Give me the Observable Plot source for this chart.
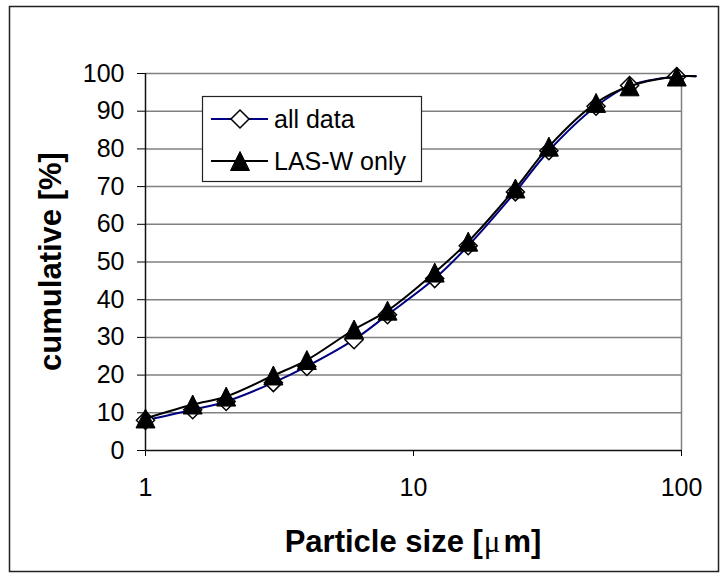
<!DOCTYPE html>
<html>
<head>
<meta charset="utf-8">
<script src="https://cdn.jsdelivr.net/npm/d3@7"></script>
<script src="https://cdn.jsdelivr.net/npm/@observablehq/plot@0.6"></script>
<style>
  html, body { margin: 0; padding: 0; background: #fff; }
</style>
</head>
<body>
<div id="chart"></div>
<script>
// Cumulative particle size distribution, two series on a log size axis.
const sizes   = [1, 1.5, 2, 3, 4, 6, 8, 12, 16, 24, 32, 48, 64, 96, 113];
const allData = [8.0, 10.8, 13.0, 18.0, 22.3, 29.4, 36.0, 45.6, 54.3, 68.6, 79.5, 91.3, 96.8, 99.2, 99.3];
const lasW    = [8.5, 12.2, 14.3, 19.9, 24.0, 32.1, 37.1, 47.2, 55.4, 69.5, 80.6, 92.2, 96.6, 99.2, 99.3];
const seriesNames = ["all data", "LAS-W only"];
const xTicks = [1, 10, 100];
const yTicks = [0, 10, 20, 30, 40, 50, 60, 70, 80, 90, 100];
const markerMax = 100; // points beyond the axis are drawn as line only

const rowsAll = sizes.map((s, i) => ({size: s, value: allData[i]}));
const rowsLas = sizes.map((s, i) => ({size: s, value: lasW[i]}));

// Spreadsheet-style markers, centred on their bounding box
const diamondSym = {
  draw(ctx, size) {
    const r = Math.sqrt(size / Math.PI);
    ctx.moveTo(0, -r); ctx.lineTo(r, 0); ctx.lineTo(0, r); ctx.lineTo(-r, 0); ctx.closePath();
  }
};
const triangleSym = {
  draw(ctx, size) {
    const r = Math.sqrt(size / Math.PI);
    ctx.moveTo(0, -r); ctx.lineTo(r, r); ctx.lineTo(-r, r); ctx.closePath();
  }
};
const diamondR = 9;
const triangleR = 9.5;

const W = 727, H = 579;
const mL = 145, mR = 46, mT = 73, mB = 129;

const svg = Plot.plot({
  width: W,
  height: H,
  marginLeft: mL,
  marginRight: mR,
  marginTop: mT,
  marginBottom: mB,
  style: {background: "white", fontFamily: "'Liberation Sans', Arial, sans-serif", fontSize: "25px", color: "black"},
  x: {type: "log", domain: [1, 100], ticks: xTicks, tickFormat: d => String(d), tickSize: 6, tickPadding: 22, label: null},
  y: {domain: [0, 100], ticks: yTicks, tickFormat: d => String(d), tickSize: 8, tickPadding: 13, label: null},
  marks: [
    Plot.ruleY(yTicks.filter(d => d > 0), {stroke: "#808080", strokeWidth: 1.5}),
    Plot.ruleX([100], {stroke: "#808080", strokeWidth: 1.5}),
    Plot.ruleX([1], {stroke: "#111", strokeWidth: 1.5}),
    Plot.ruleY([0], {stroke: "#111", strokeWidth: 1.5}),
    Plot.line(rowsAll, {x: "size", y: "value", stroke: "#000080", strokeWidth: 2, curve: "catmull-rom"}),
    Plot.dot(rowsAll.filter(d => d.size <= markerMax), {x: "size", y: "value", symbol: diamondSym, r: diamondR, fill: "white", stroke: "black", strokeWidth: 1.5}),
    Plot.line(rowsLas, {x: "size", y: "value", stroke: "black", strokeWidth: 2, curve: "catmull-rom"}),
    Plot.dot(rowsLas.filter(d => d.size <= markerMax), {x: "size", y: "value", symbol: triangleSym, r: triangleR, fill: "black", stroke: "black", strokeWidth: 1})
  ]
});

const root = d3.select(svg);

// outer chart border
root.insert("rect", ":first-child")
  .attr("x", 9.5).attr("y", 6.5).attr("width", 709).attr("height", 565)
  .attr("fill", "white").attr("stroke", "#222").attr("stroke-width", 1.5);

// legend
const lg = root.append("g").attr("text-anchor", "start");
lg.append("rect")
  .attr("x", 202.5).attr("y", 96.5).attr("width", 219).attr("height", 85)
  .attr("fill", "white").attr("stroke", "#222").attr("stroke-width", 1.2);
const entries = [
  {name: seriesNames[0], stroke: "#000080", sym: diamondSym, r: diamondR, fill: "white", sw: 1.5, cy: 119},
  {name: seriesNames[1], stroke: "black", sym: triangleSym, r: triangleR, fill: "black", sw: 1, cy: 161}
];
entries.forEach(e => {
  lg.append("line").attr("x1", 211).attr("x2", 268).attr("y1", e.cy).attr("y2", e.cy)
    .attr("stroke", e.stroke).attr("stroke-width", 2);
  lg.append("path").attr("d", d3.symbol(e.sym, Math.PI * e.r * e.r)())
    .attr("transform", `translate(240,${e.cy})`)
    .attr("fill", e.fill).attr("stroke", "black").attr("stroke-width", e.sw);
  lg.append("text").attr("x", 274).attr("y", e.cy + 9).text(e.name)
    .attr("text-anchor", "start").attr("font-size", 25).attr("fill", "black");
});

// axis titles
const xt = root.append("text")
  .attr("x", (mL + W - mR) / 2).attr("y", 552)
  .attr("text-anchor", "middle").attr("font-weight", "bold").attr("font-size", 31).attr("fill", "black");
xt.append("tspan").text("Particle size [");
xt.append("tspan").text("\u03bc").attr("font-weight", "normal").attr("font-family", "'Liberation Serif', serif").attr("dx", 1);
xt.append("tspan").text("m]").attr("dx", 3);

root.append("text")
  .attr("transform", `translate(61,${(mT + H - mB) / 2}) rotate(-90)`)
  .attr("text-anchor", "middle").attr("font-weight", "bold").attr("font-size", 31).attr("fill", "black")
  .text("cumulative [%]");

document.getElementById("chart").appendChild(svg);
</script>
</body>
</html>
